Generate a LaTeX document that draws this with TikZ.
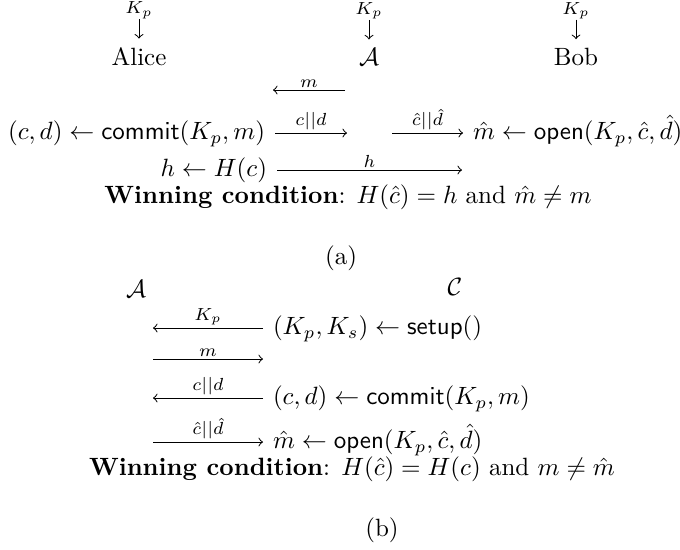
\documentclass[tikz,border=0pt]{standalone}
\usepackage{amsmath}
\usepackage{amssymb}
\usepackage{tikz}
\usetikzlibrary{arrows.meta,positioning}
\tikzset{
  party/.style ={inner sep=0pt},
  stmt/.style  ={inner sep=0pt, outer xsep=4pt, text height=7.5pt, text depth=2.5pt},
  msg/.style   ={-to, line width=0.4pt},
  kdown/.style ={-to, line width=0.4pt, shorten >=3.2pt},
  lbl/.style   ={font=\scriptsize, inner sep=1pt},
  cond/.style  ={inner sep=0pt}
}

\begin{document}
\begin{tikzpicture}[x=0.4pt, y=-0.4pt, node distance=11pt]
\useasboundingbox (0,0) rectangle (680,549);
\node[party, anchor=base] (alice) at (139,65) {Alice};
\node[party, anchor=base] (adv) at (369,65) {$\mathcal{A}$};
\node[party, anchor=base] (bob) at (576,65) {Bob};
\node[party, above=of alice] (kpA) {\scriptsize$K_p$};
\node[party, above=of adv] (kpAdv) {\scriptsize$K_p$};
\node[party, above=of bob] (kpB) {\scriptsize$K_p$};
\draw[kdown] (kpA) -- (alice);
\draw[kdown] (kpAdv) -- (adv);
\draw[kdown] (kpB) -- (bob);

\coordinate (mR) at (345,90);
\coordinate (mL) at (273,90);
\node[stmt, anchor=east] (commit) at (275,133) {$(c,d) \leftarrow \mathsf{commit}(K_p,m)$};
\node[stmt, anchor=west] (open) at (463,133) {$\hat{m} \leftarrow \mathsf{open}(K_p,\hat{c},\hat{d})$};
\node[stmt, anchor=east] (hash) at (277,170) {$h \leftarrow H(c)$};
\coordinate (cdEnd) at (347,133);
\coordinate (chdStart) at (392,133);
\coordinate (hEnd) at (462,170);

\draw[msg] (mR) -- node[lbl,above]{$m$} (mL);
\draw[msg] (commit) -- node[lbl,above]{$c||d$} (cdEnd);
\draw[msg] (chdStart) -- node[lbl,above]{$\hat{c}||\hat{d}$} (open);
\draw[msg] (hash) -- node[lbl,above]{$h$} (hEnd);

\node[cond, anchor=base] (win) at (348,203) {\textbf{Winning condition}: $H(\hat{c}) = h$ and $\hat{m} \neq m$};
\node[cond, anchor=base] (capa) at (341,264) {(a)};

\node[party, anchor=base] (advb) at (136,297) {$\mathcal{A}$};
\node[party, anchor=base] (chal) at (455,295) {$\mathcal{C}$};
\node[stmt, anchor=west] (setup) at (263,328) {$(K_p,K_s) \leftarrow \mathsf{setup}()$};
\node[stmt, anchor=west] (commitb) at (263,398) {$(c,d) \leftarrow \mathsf{commit}(K_p,m)$};
\node[stmt, anchor=west] (openb) at (263,442) {$\hat{m} \leftarrow \mathsf{open}(K_p,\hat{c},\hat{d})$};
\coordinate (kL) at (153,328);
\coordinate (mbL) at (153,359);
\coordinate (mbR) at (263,359);
\coordinate (cdL) at (153,398);
\coordinate (chdL) at (153,442);

\draw[msg] (setup) -- node[lbl,above]{$K_p$} (kL);
\draw[msg] (mbL) -- node[lbl,above]{$m$} (mbR);
\draw[msg] (commitb) -- node[lbl,above]{$c||d$} (cdL);
\draw[msg] (chdL) -- node[lbl,above]{$\hat{c}||\hat{d}$} (openb);

\node[cond, anchor=base] (winb) at (352,475) {\textbf{Winning condition}: $H(\hat{c}) = H(c)$ and $m \neq \hat{m}$};
\node[cond, anchor=base] (capb) at (382,536) {(b)};
\end{tikzpicture}
\end{document}
